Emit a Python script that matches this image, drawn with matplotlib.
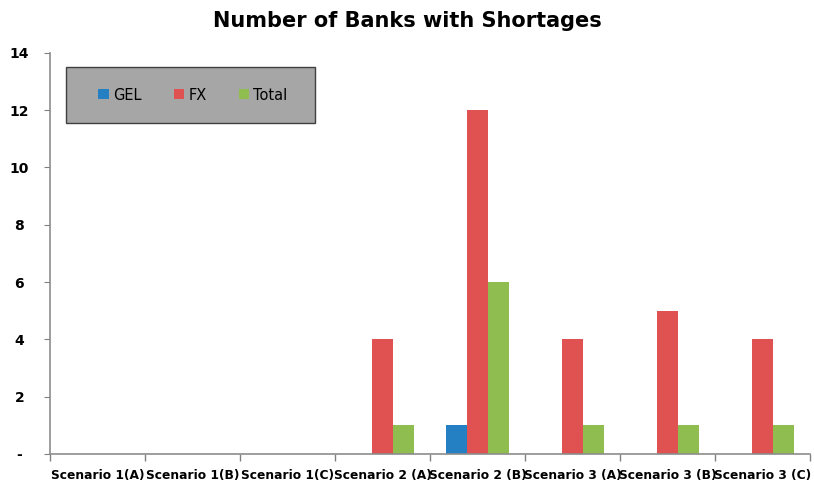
import matplotlib.pyplot as plt
from matplotlib.patches import Rectangle
import numpy as np

# data
scenarios = ["Scenario 1(A)", "Scenario 1(B)", "Scenario 1(C)", "Scenario 2 (A)",
             "Scenario 2 (B)", "Scenario 3 (A)", "Scenario 3 (B)", "Scenario 3 (C)"]
gel = [0, 0, 0, 0, 1, 0, 0, 0]
fx = [0, 0, 0, 4, 12, 4, 5, 4]
total = [0, 0, 0, 1, 6, 1, 1, 1]
yticks = [0, 2, 4, 6, 8, 10, 12, 14]
ylabels = ["-", "2", "4", "6", "8", "10", "12", "14"]

colors = {"GEL": "#2580c3", "FX": "#e05151", "Total": "#8fbd50"}

fig = plt.figure(figsize=(8.14, 4.94), dpi=100)
ax = fig.add_axes([0.0614, 0.081, 0.934, 0.812])

x = np.arange(len(scenarios))
w = 0.22
ax.bar(x - w, gel, w, color=colors["GEL"], label="GEL")
ax.bar(x, fx, w, color=colors["FX"], label="FX")
ax.bar(x + w, total, w, color=colors["Total"], label="Total")

ax.set_xlim(-0.5, len(scenarios) - 0.5)
ax.set_ylim(0, 14)
ax.set_yticks(yticks)
ax.set_yticklabels(ylabels, fontweight="bold", fontsize=10)
ax.set_xticks(np.arange(len(scenarios) + 1) - 0.5, minor=False)
ax.set_xticklabels([])
ax.set_xticks(x, minor=True)
ax.set_xticklabels(scenarios, minor=True, fontweight="bold", fontsize=8.8)
ax.tick_params(axis="x", which="major", length=5, color="#808080", width=1)
ax.tick_params(axis="x", which="minor", length=0, pad=11)
ax.tick_params(axis="y", length=4, color="#808080", pad=18)
for lab in ax.get_yticklabels():
    lab.set_horizontalalignment("center")

for s in ["top", "right"]:
    ax.spines[s].set_visible(False)
for s in ["left", "bottom"]:
    ax.spines[s].set_color("#8c8c8c")
    ax.spines[s].set_linewidth(1.2)

fig.text(0.5, 0.958, "Number of Banks with Shortages", ha="center", va="center",
         fontsize=15, fontweight="bold")

# legend box
bx, by, bw, bh = 66 / 814, 1 - 123 / 494, 249 / 814, 56 / 494
ax.add_patch(Rectangle((bx, by), bw, bh, transform=fig.transFigure, clip_on=False,
                       facecolor="#a6a6a6", edgecolor="#404040", linewidth=1, zorder=5))
leg = ax.legend(loc="center", bbox_to_anchor=(bx + bw / 2 + 0.003, by + bh / 2),
                bbox_transform=fig.transFigure, ncol=3, frameon=False,
                fontsize=10.5, handlelength=0.7, handleheight=0.7,
                handletextpad=0.3, columnspacing=2.2)
leg.set_zorder(6)

fig.savefig("out.png", dpi=100)
